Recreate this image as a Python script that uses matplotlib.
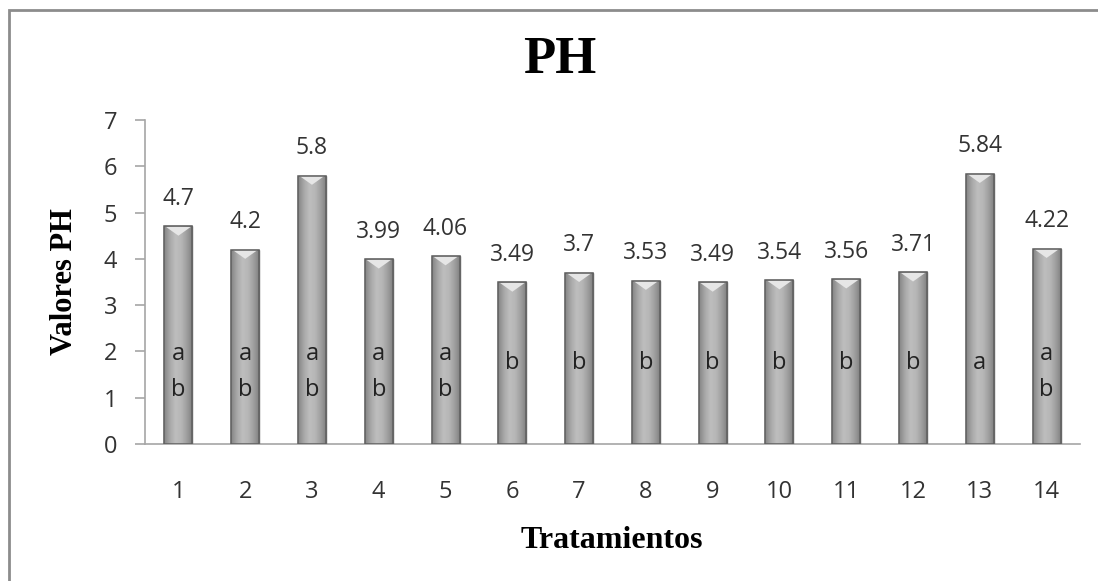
import numpy as np
import matplotlib.pyplot as plt
from matplotlib.patches import Polygon, Rectangle
from matplotlib.colors import LinearSegmentedColormap

tratamientos = ['1', '2', '3', '4', '5', '6', '7', '8', '9', '10', '11', '12', '13', '14']
ph_values = [4.7, 4.2, 5.8, 3.99, 4.06, 3.49, 3.7, 3.53, 3.49, 3.54, 3.56, 3.71, 5.84, 4.22]
letras = ['a\nb', 'a\nb', 'a\nb', 'a\nb', 'a\nb', 'b', 'b', 'b', 'b', 'b', 'b', 'b', 'a', 'a\nb']

sans = 'Open Sans'
serif = 'Liberation Serif'

fig = plt.figure(figsize=(10.98, 5.81), dpi=100)
ax = fig.add_axes([145/1098, 1 - 444/581, 935/1098, 324/581])

x = np.arange(len(tratamientos))
width = 0.42
rects = ax.bar(x, ph_values, width, color='#a8a8a8', edgecolor='#666666',
               linewidth=1.0, zorder=3)

# cylinder-like shading across each bar
cmap = LinearSegmentedColormap.from_list('barra', ['#858585', '#a8a8a8', '#bebebe',
                                                   '#b6b6b6', '#9e9e9e', '#7c7c7c'])
grad = np.linspace(0, 1, 64).reshape(1, -1)
grad = np.vstack([grad] * 8)
for rect in rects:
    x0, w, h = rect.get_x(), rect.get_width(), rect.get_height()
    im = ax.imshow(grad, extent=[x0, x0 + w, 0, h], aspect='auto', cmap=cmap,
                   origin='lower', zorder=3.5, interpolation='bicubic')
    im.set_clip_path(rect)
    # bevel at the top
    tri = Polygon([[x0 + w*0.06, h - 0.01], [x0 + w*0.94, h - 0.01], [x0 + w/2, h - 0.2]],
                  closed=True, facecolor='#e6e6e6', edgecolor='none', zorder=4)
    ax.add_patch(tri)
    edge = Rectangle((x0, 0), w, h, facecolor='none', edgecolor='#5f5f5f',
                     linewidth=1.1, zorder=5)
    ax.add_patch(edge)

for rect, v in zip(rects, ph_values):
    ax.annotate('{:g}'.format(v), (rect.get_x() + rect.get_width()/2, v),
                xytext=(0, 11), textcoords='offset points', ha='center', va='bottom',
                fontsize=16.5, family=sans, color='#333333')

for xi, l in zip(x, letras):
    yl = 1.55 if '\n' in l else 1.76
    ax.text(xi, yl, l, ha='center', va='center', fontsize=17, family=sans,
            color='#222222', linespacing=1.65, zorder=6)

ax.set_xlim(-0.5, len(tratamientos) - 0.5)
ax.set_ylim(0, 7)
ax.set_yticks(range(0, 8))
ax.set_xticks(x)
ax.set_xticklabels(tratamientos)
for s in ['top', 'right']:
    ax.spines[s].set_visible(False)
for s in ['left', 'bottom']:
    ax.spines[s].set_color('#a6a6a6')
    ax.spines[s].set_linewidth(1.2)
ax.tick_params(axis='y', length=7, color='#a6a6a6', width=1.2, pad=13,
               labelsize=17, labelcolor='#333333')
ax.tick_params(axis='x', length=0, pad=26, labelsize=17, labelcolor='#333333')
for lab in ax.get_xticklabels() + ax.get_yticklabels():
    lab.set_family(sans)

fig.text(560/1098, 1 - 60/581, 'PH', ha='center', va='center', fontsize=38,
         fontweight='bold', family=serif)
fig.text(65/1098, 1 - 282/581, 'Valores PH', ha='center', va='center', rotation=90,
         fontsize=22, fontweight='bold', family=serif)
fig.text(612/1098, 1 - 541/581, 'Tratamientos', ha='center', va='center',
         fontsize=23, fontweight='bold', family=serif)

# outer chart frame
fig.patches.append(Rectangle((9/1098, -0.1), 1.2, 1.1 - 11/581 + 0.001, transform=fig.transFigure,
                             facecolor='none', edgecolor='#8c8c8c', linewidth=2))

fig.savefig('out.png', dpi=100)
